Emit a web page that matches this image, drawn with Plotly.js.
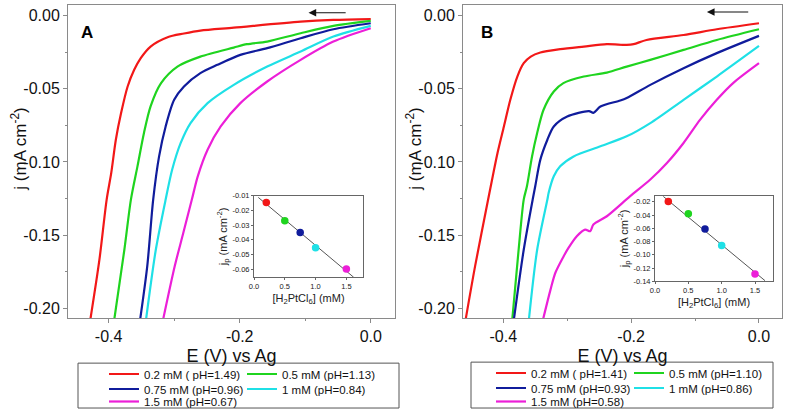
<!DOCTYPE html>
<html><head><meta charset="utf-8">
<script src="https://cdn.plot.ly/plotly-3.0.1.min.js"></script>
<style>html,body{margin:0;padding:0;background:#fff}#chart{width:789px;height:416px}</style>
</head><body><div id="chart"></div>
<script>
// ---------- series labels ----------
const namesA = ['0.2 mM ( pH=1.49)', '0.5 mM (pH=1.13)', '0.75 mM (pH=0.96)', '1 mM (pH=0.84)', '1.5 mM (pH=0.67)'];
const namesB = ['0.2 mM ( pH=1.41)', '0.5 mM (pH=1.10)', '0.75 mM (pH=0.93)', '1 mM (pH=0.86)', '1.5 mM (pH=0.58)'];
const colors = ['#f21818', '#1fd41f', '#101c9c', '#1fe0e6', '#ec1fd8'];

// ---------- panel A curves: E (V) and j (mA cm-2) ----------
const A02_E = [0, -0.057, -0.107, -0.209, -0.260, -0.285, -0.310, -0.336, -0.351, -0.361, -0.371, -0.381, -0.389, -0.396, -0.403, -0.414, -0.428];
const A02_J = [-0.0023, -0.0029, -0.0041, -0.0082, -0.0102, -0.0122, -0.0147, -0.0211, -0.029, -0.037, -0.0484, -0.0666, -0.0848, -0.1075, -0.1257, -0.1666, -0.208];
const A05_E = [0, -0.057, -0.107, -0.158, -0.189, -0.209, -0.260, -0.295, -0.320, -0.336, -0.346, -0.356, -0.366, -0.376, -0.3915];
const A05_J = [-0.0036, -0.007, -0.012, -0.0177, -0.0195, -0.0218, -0.028, -0.0348, -0.0461, -0.062, -0.080, -0.103, -0.1257, -0.16, -0.208];
const A075_E = [0, -0.057, -0.107, -0.158, -0.199, -0.234, -0.260, -0.285, -0.300, -0.313, -0.323, -0.332, -0.341, -0.352];
const A075_J = [-0.0052, -0.0093, -0.0154, -0.0222, -0.0268, -0.0336, -0.0393, -0.0484, -0.0575, -0.0757, -0.0962, -0.1257, -0.171, -0.208];
const A10_E = [0, -0.057, -0.107, -0.158, -0.209, -0.249, -0.275, -0.290, -0.303, -0.313, -0.328, -0.343];
const A10_J = [-0.007, -0.0143, -0.0245, -0.0348, -0.0473, -0.0598, -0.0734, -0.087, -0.1052, -0.1257, -0.16, -0.208];
const A15_E = [0, -0.057, -0.107, -0.158, -0.199, -0.229, -0.249, -0.264, -0.273, -0.286, -0.299, -0.317];
const A15_J = [-0.0086, -0.0177, -0.0302, -0.045, -0.0598, -0.0757, -0.0916, -0.1098, -0.1257, -0.1484, -0.171, -0.208];

// ---------- panel B curves ----------
const B02_E = [0, -0.066, -0.118, -0.176, -0.196, -0.207, -0.238, -0.274, -0.311, -0.342, -0.357, -0.368, -0.378, -0.389, -0.399, -0.409, -0.4237, -0.444, -0.459];
const B02_J = [-0.0052, -0.0093, -0.0132, -0.0166, -0.0195, -0.020, -0.0195, -0.0211, -0.0229, -0.0252, -0.028, -0.0325, -0.0416, -0.0575, -0.0757, -0.0938, -0.1257, -0.171, -0.208];
const B05_E = [0, -0.066, -0.118, -0.170, -0.207, -0.238, -0.274, -0.306, -0.321, -0.337, -0.347, -0.355, -0.363, -0.368, -0.376, -0.386];
const B05_J = [-0.0093, -0.0166, -0.0234, -0.0302, -0.0348, -0.0389, -0.0416, -0.0461, -0.0518, -0.0643, -0.0802, -0.0962, -0.1166, -0.1257, -0.16, -0.208];
const B075_E = [0, -0.066, -0.118, -0.170, -0.207, -0.217, -0.248, -0.259, -0.266, -0.300, -0.321, -0.331, -0.342, -0.350, -0.354, -0.368, -0.3835];
const B075_J = [-0.0138, -0.0256, -0.0359, -0.0473, -0.0563, -0.058, -0.0621, -0.0664, -0.0652, -0.0689, -0.0757, -0.0848, -0.0984, -0.1166, -0.1257, -0.16, -0.208];
const B10_E = [0, -0.066, -0.118, -0.170, -0.207, -0.248, -0.290, -0.311, -0.321, -0.329, -0.331, -0.347, -0.360];
const B10_J = [-0.0207, -0.0416, -0.0575, -0.0734, -0.0825, -0.0893, -0.0962, -0.103, -0.1098, -0.1211, -0.1257, -0.16, -0.208];
const B15_E = [0, -0.0405, -0.066, -0.092, -0.118, -0.144, -0.170, -0.2015, -0.238, -0.259, -0.264, -0.272, -0.285, -0.298, -0.3055, -0.3185, -0.326, -0.338];
const B15_J = [-0.0325, -0.0461, -0.0575, -0.0711, -0.087, -0.1007, -0.112, -0.1234, -0.1371, -0.1428, -0.1473, -0.1462, -0.1507, -0.1587, -0.1644, -0.1757, -0.1871, -0.208];

// ---------- insets: peak current vs concentration ----------
const conc = [0.2, 0.5, 0.75, 1.0, 1.5];
const jpA = [-0.0145, -0.027, -0.035, -0.0455, -0.060];
const jpB = [-0.0195, -0.038, -0.061, -0.086, -0.129];
const fitA_x = [0.07, 1.62];
const fitA_y = [-0.0111, -0.0656];
const fitB_x = [0.125, 1.65];
const fitB_y = [-0.012, -0.139];

// ---------- tick labels ----------
const mainXVals = [-0.4, -0.2, 0.0];
const mainXText = ['-0.4', '-0.2', '0.0'];
const mainYVals = [0, -0.05, -0.10, -0.15, -0.20];
const mainYText = ['0.00', '-0.05', '-0.10', '-0.15', '-0.20'];
const insetXVals = [0, 0.5, 1.0, 1.5];
const insetXText = ['0.0', '0.5', '1.0', '1.5'];
const insetAYVals = [-0.01, -0.02, -0.03, -0.04, -0.05, -0.06];
const insetAYText = ['-0.01', '-0.02', '-0.03', '-0.04', '-0.05', '-0.06'];
const insetBYVals = [-0.02, -0.04, -0.06, -0.08, -0.10, -0.12, -0.14];
const insetBYText = ['-0.02', '-0.04', '-0.06', '-0.08', '-0.10', '-0.12', '-0.14'];

// ---------- build ----------
const W = 789, H = 416;
const FONT = 'Liberation Sans, Arial, sans-serif';
const px = v => v / W;
const py = v => 1 - v / H;

const curvesA = [[A02_E, A02_J], [A05_E, A05_J], [A075_E, A075_J], [A10_E, A10_J], [A15_E, A15_J]];
const curvesB = [[B02_E, B02_J], [B05_E, B05_J], [B075_E, B075_J], [B10_E, B10_J], [B15_E, B15_J]];
const legA = ['legend', 'legend', 'legend2', 'legend2', 'legend3'];
const legB = ['legend4', 'legend4', 'legend5', 'legend5', 'legend6'];

const traces = [];
curvesA.forEach((c, i) => traces.push({
  x: c[0], y: c[1], xaxis: 'x', yaxis: 'y', type: 'scatter', mode: 'lines',
  name: namesA[i], legend: legA[i], line: {color: colors[i], width: 2.2, shape: 'spline', smoothing: 0.8}
}));
curvesB.forEach((c, i) => traces.push({
  x: c[0], y: c[1], xaxis: 'x2', yaxis: 'y2', type: 'scatter', mode: 'lines',
  name: namesB[i], legend: legB[i], line: {color: colors[i], width: 2.2, shape: 'spline', smoothing: 0.8}
}));
traces.push({x: fitA_x, y: fitA_y, xaxis: 'x3', yaxis: 'y3', mode: 'lines', showlegend: false, line: {color: '#555', width: 1}});
traces.push({x: conc, y: jpA, xaxis: 'x3', yaxis: 'y3', mode: 'markers', showlegend: false, marker: {color: colors, size: 7.5}});
traces.push({x: fitB_x, y: fitB_y, xaxis: 'x4', yaxis: 'y4', mode: 'lines', showlegend: false, line: {color: '#555', width: 1}});
traces.push({x: conc, y: jpB, xaxis: 'x4', yaxis: 'y4', mode: 'markers', showlegend: false, marker: {color: colors, size: 7.5}});

const axCol = '#8a8a8a';
function mainX(dom, rng, anchor) {
  return {domain: dom, range: rng, anchor: anchor, showgrid: false, zeroline: false, showline: true, mirror: true,
    linecolor: axCol, linewidth: 1, ticks: 'outside', ticklen: 4, tickcolor: axCol,
    tickvals: mainXVals, ticktext: mainXText, tickfont: {family: FONT, size: 16, color: '#111'},
    minor: {ticks: 'outside', ticklen: 2, tickcolor: axCol, dtick: 0.1, tick0: 0},
    title: {text: 'E (V) vs Ag', font: {family: FONT, size: 18, color: '#111'}, standoff: 4}, automargin: false};
}
function mainY(dom, anchor) {
  return {domain: dom, range: [-0.2068, 0.0073], anchor: anchor, showgrid: false, zeroline: false, showline: true, mirror: true,
    linecolor: axCol, linewidth: 1, ticks: 'outside', ticklen: 4, tickcolor: axCol,
    tickvals: mainYVals, ticktext: mainYText, tickfont: {family: FONT, size: 16, color: '#111'},
    minor: {ticks: 'outside', ticklen: 2, tickcolor: axCol, dtick: 0.025, tick0: 0},
    automargin: false};
}
function insetX(dom, anchor) {
  return {domain: dom, range: [0, 1.77], anchor: anchor, showgrid: false, zeroline: false, showline: true, mirror: true,
    linecolor: '#666', linewidth: 1, ticks: 'outside', ticklen: 2, tickcolor: '#666',
    tickvals: insetXVals, ticktext: insetXText, tickfont: {family: FONT, size: 7.5, color: '#222'},
    title: {text: '[H<sub>2</sub>PtCl<sub>6</sub>] (mM)', font: {family: FONT, size: 11, color: '#222'}, standoff: 3}, automargin: false};
}
function insetY(dom, rng, vals, text, anchor) {
  return {domain: dom, range: rng, anchor: anchor, showgrid: false, zeroline: false, showline: true, mirror: true,
    linecolor: '#666', linewidth: 1, ticks: 'outside', ticklen: 2, tickcolor: '#666',
    tickvals: vals, ticktext: text, tickfont: {family: FONT, size: 7.5, color: '#222'},
    title: {text: 'j<sub>p</sub> (mA cm<sup>-2</sup>)', font: {family: FONT, size: 11, color: '#222'}, standoff: 2}, automargin: false};
}
function legendRow(xp, yp) {
  return {orientation: 'h', x: px(xp), xanchor: 'left', y: py(yp), yanchor: 'middle', bgcolor: 'rgba(0,0,0,0)',
    borderwidth: 0, font: {family: FONT, size: 11.5, color: '#111'}, entrywidth: 93, entrywidthmode: 'pixels',
    itemwidth: 30, itemclick: false, itemdoubleclick: false};
}
function yTitle(xp, yp) {
  return {text: 'j (mA cm<sup>-2</sup>)', xref: 'paper', yref: 'paper', x: px(xp), y: py(yp), textangle: -90,
    showarrow: false, xanchor: 'center', yanchor: 'middle', font: {family: FONT, size: 17, color: '#111'}};
}

const layout = {
  width: W, height: H, margin: {l: 0, r: 0, t: 0, b: 0}, paper_bgcolor: '#fff', plot_bgcolor: 'rgba(0,0,0,0)',
  font: {family: FONT}, showlegend: true,
  xaxis: mainX([px(68), px(395)], [-0.462, 0.037], 'y'),
  yaxis: mainY([py(319), py(5)], 'x'),
  xaxis2: mainX([px(463), px(782)], [-0.463, 0.036], 'y2'),
  yaxis2: mainY([py(319), py(5)], 'x2'),
  xaxis3: insetX([px(254), px(363)], 'y3'),
  yaxis3: insetY([py(278), py(196)], [-0.0656, -0.0098], insetAYVals, insetAYText, 'x3'),
  xaxis4: insetX([px(655), px(773)], 'y4'),
  yaxis4: insetY([py(282), py(196)], [-0.14, -0.0106], insetBYVals, insetBYText, 'x4'),
  legend: legendRow(104, 374), legend2: legendRow(104, 389), legend3: legendRow(104, 402),
  legend4: legendRow(491, 373), legend5: legendRow(491, 388), legend6: legendRow(491, 402),
  shapes: [
    {type: 'rect', xref: 'paper', yref: 'paper', x0: px(78), x1: px(399), y0: py(409), y1: py(364), line: {color: '#555', width: 1}},
    {type: 'rect', xref: 'paper', yref: 'paper', x0: px(471), x1: px(773), y0: py(409), y1: py(363), line: {color: '#555', width: 1}}
  ],
  annotations: [
    yTitle(19, 150), yTitle(414, 150),
    {text: '<b>A</b>', xref: 'paper', yref: 'paper', x: px(79), y: py(21.5), showarrow: false, font: {family: FONT, size: 17, color: '#000'}},
    {text: '<b>B</b>', xref: 'paper', yref: 'paper', x: px(487), y: py(21), showarrow: false, font: {family: FONT, size: 17, color: '#000'}},
    {text: '', xref: 'x', yref: 'y', x: -0.095, y: 0.002, axref: 'x', ayref: 'y', ax: -0.036, ay: 0.002,
     showarrow: true, arrowhead: 2, arrowsize: 1.4, arrowwidth: 1.1, arrowcolor: '#111', standoff: 0, startstandoff: 0},
    {text: '', xref: 'x2', yref: 'y2', x: -0.0815, y: 0.0025, axref: 'x2', ayref: 'y2', ax: -0.0145, ay: 0.0025,
     showarrow: true, arrowhead: 2, arrowsize: 1.4, arrowwidth: 1.1, arrowcolor: '#111', standoff: 0, startstandoff: 0}
  ]
};

Plotly.newPlot('chart', traces, layout, {displayModeBar: false, staticPlot: true});
</script>
</body></html>
